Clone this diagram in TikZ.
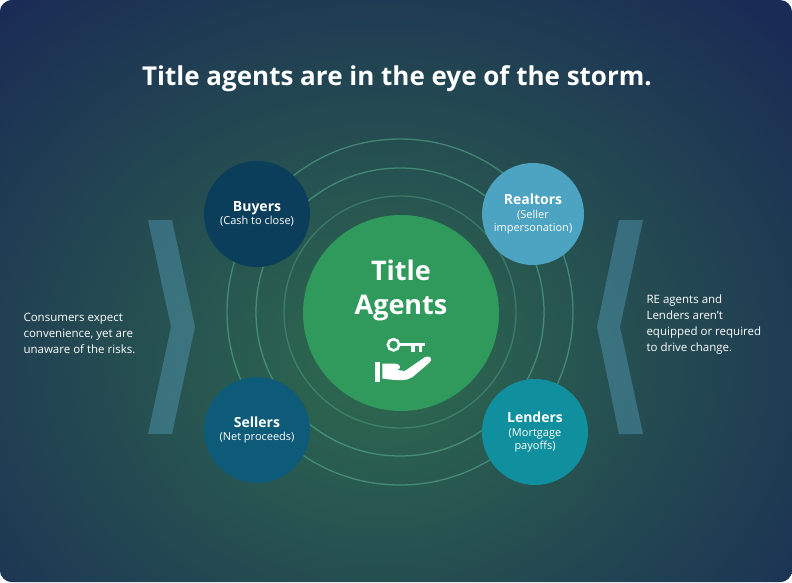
\documentclass[tikz,border=0pt]{standalone}
\usepackage{fontspec}
\setmainfont{Open Sans}
\definecolor{navy}{HTML}{1A2B55}
\definecolor{glow}{HTML}{2E6B4E}
\definecolor{cgreen}{HTML}{2F9A5B}
\definecolor{cbuy}{HTML}{0B3E5B}
\definecolor{creal}{HTML}{4CA3C2}
\definecolor{csell}{HTML}{0D5B79}
\definecolor{clend}{HTML}{10909E}
\begin{document}
\begin{tikzpicture}[x=1pt,y=-1pt,
  sat/.style={circle,minimum size=106pt,inner sep=0pt,text=white,align=center,font=\fontsize{11}{13.5}\selectfont},
  ring/.style={draw=cyan!30!green!60!white,draw opacity=0.45,line width=1.3pt},
  side/.style={text=white,align=left,font=\fontsize{11.5}{16}\selectfont,anchor=west},
  chev/.style={fill=cyan!40!teal!80!white,fill opacity=0.4}]
\useasboundingbox (0,0) rectangle (792,582);
\fill[white] (0,0) rectangle (792,582);
\begin{scope}
\clip[rounded corners=12pt] (0,0) rectangle (792,582);
\fill[navy] (0,0) rectangle (792,582);
\shade[inner color=glow,outer color=navy] (380,360) ellipse (560 and 480);
\end{scope}
\node[text=white,font=\bfseries\fontsize{26}{30}\selectfont] (title) at (397,79) {Title agents are in the eye of the storm.};
\node[circle,ring,minimum size=346pt] (r1) at (400,312) {};
\node[circle,ring,minimum size=288pt] (r2) at (400,312) {};
\node[circle,ring,minimum size=232pt,draw opacity=0.3] (r3) at (400,312) {};
\fill[chev] (148,220) -- (172,220) -- (195,327) -- (172,434) -- (148,434) -- (171,327) -- cycle;
\fill[chev] (643,220) -- (619,220) -- (597,327) -- (619,434) -- (643,434) -- (620,327) -- cycle;
\node[circle,fill=cgreen,minimum size=196pt] (c) at (401,313) {};
\node[text=white,align=center,font=\fontsize{27}{34}\selectfont\bfseries] (ct) at (401,290) {Title\\Agents};
% key icon
\begin{scope}[white,shift={(401,361)},scale=1.25,shift={(-401,-361)}]
\draw[line width=2.6pt] (395,348) circle (4.5);
\draw[line width=2.6pt] (400,348) -- (420,348);
\fill (409,348) rectangle (412,354);
\fill (415,348) rectangle (418,354);
\fill (380,362) rectangle (384,378);
\fill (386,363) -- (396,363) .. controls (401,363) and (402,368) .. (397,368) -- (404,369) -- (420,358) .. controls (425,356) and (427,360) .. (423,363) -- (410,374) .. controls (405,377) and (400,377) .. (386,375) -- cycle;
\end{scope}
\node[sat,fill=cbuy] (buy) at (257,214) {\textbf{\fontsize{14}{17}\selectfont Buyers}\\(Cash to close)};
\node[sat,fill=creal,minimum size=102pt] (real) at (533,214) {\textbf{\fontsize{14}{17}\selectfont Realtors}\\(Seller\\impersonation)};
\node[sat,fill=csell] (sell) at (257,430) {\textbf{\fontsize{14}{17}\selectfont Sellers}\\(Net proceeds)};
\node[sat,fill=clend] (lend) at (535,432) {\textbf{\fontsize{14}{17}\selectfont Lenders}\\(Mortgage\\payoffs)};
\node[side] (lt) at (20,333) {Consumers expect\\convenience, yet are\\unaware of the risks.};
\node[side] (rt) at (643,325) {RE agents and\\Lenders aren't\\equipped or required\\to drive change.};
\end{tikzpicture}
\end{document}
